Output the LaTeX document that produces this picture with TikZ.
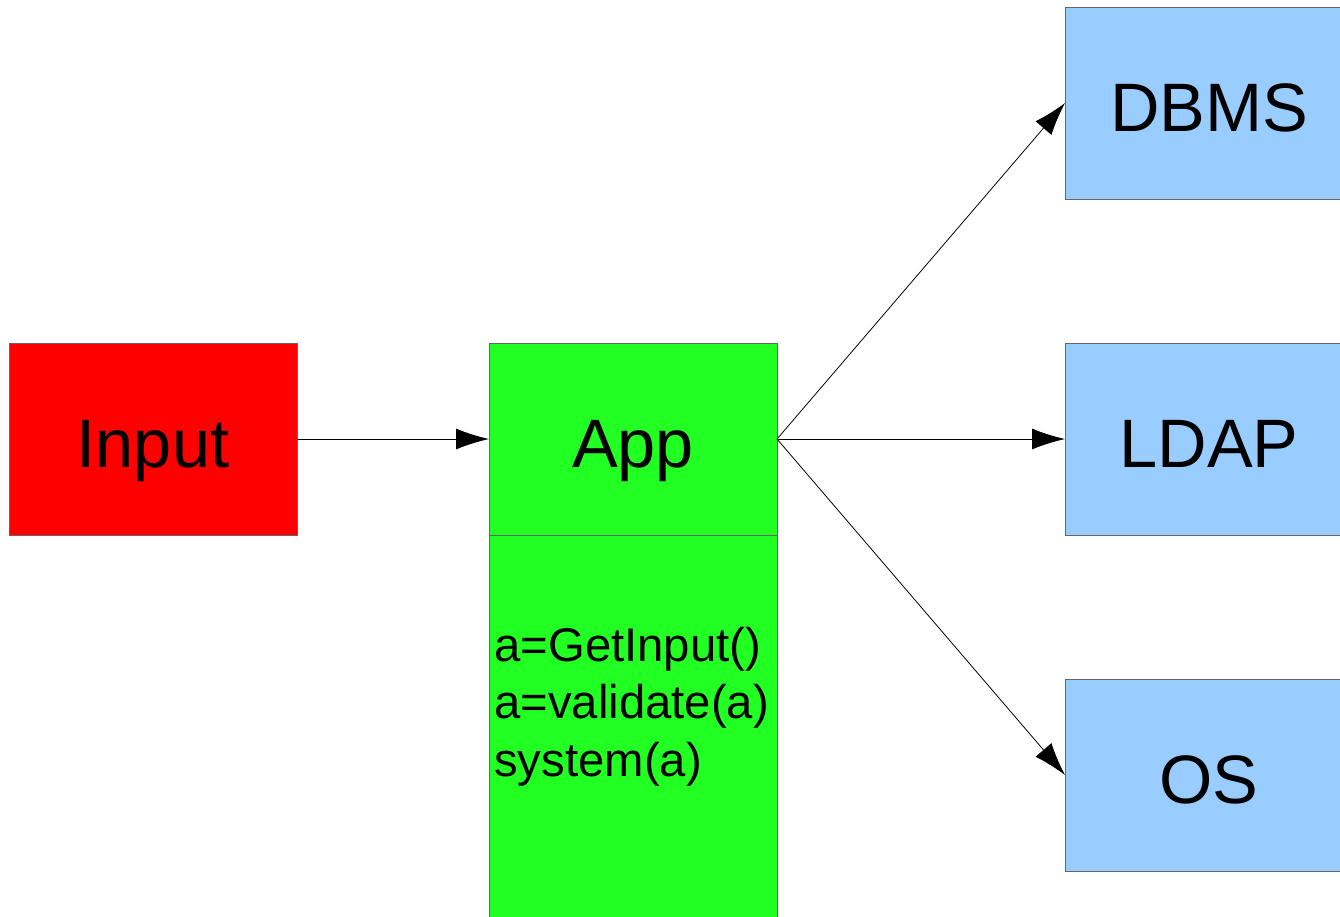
\documentclass[tikz,border=0pt]{standalone}
\usepackage{fontspec}
\setmainfont{Liberation Sans}
\usepackage{tikz}
\usetikzlibrary{arrows.meta}
\usetikzlibrary{calc}
\usetikzlibrary{positioning}
\tikzset{>={Latex[length=6.6mm,width=4.2mm]}}
\definecolor{inputred}{HTML}{FF0000}
\definecolor{appgreen}{HTML}{22FF22}
\definecolor{backblue}{HTML}{99CCFF}

\begin{document}
\begin{tikzpicture}[block/.style={draw=black!60,line width=0.5pt,rectangle,inner sep=0pt,outer sep=0pt,minimum width=5.76cm,minimum height=3.84cm,text height=34pt,text depth=2pt,font=\fontsize{39}{47}\selectfont},
                    link/.style={->,line width=0.45pt}]

\useasboundingbox (0,0) rectangle (26.8,-18.32);

\node (input) [block,fill=inputred] at (3.06,-8.78) {Input};
\node (app) [block,fill=appgreen,right=3.84cm of input] {App};
\node (code) [block,fill=appgreen,below=0cm of app,minimum height=8cm] {};
\node (codetext) [anchor=north west,align=left,inner sep=0pt,font=\fontsize{26.9}{32.6}\selectfont] at ($(code.north west)+(0.1,-1.84)$) {a=GetInput()\\a=validate(a)\\system(a)};

\node (ldap) [block,fill=backblue,right=5.76cm of app] {LDAP};
\node (dbms) [block,fill=backblue,above=2.88cm of ldap] {DBMS};
\node (os) [block,fill=backblue,below=2.88cm of ldap] {OS};

\draw [link] (input.east) -- (app.west);
\foreach \x in {dbms, ldap, os} \draw [link] (app.east) -- (\x.west);

\end{tikzpicture}
\end{document}
